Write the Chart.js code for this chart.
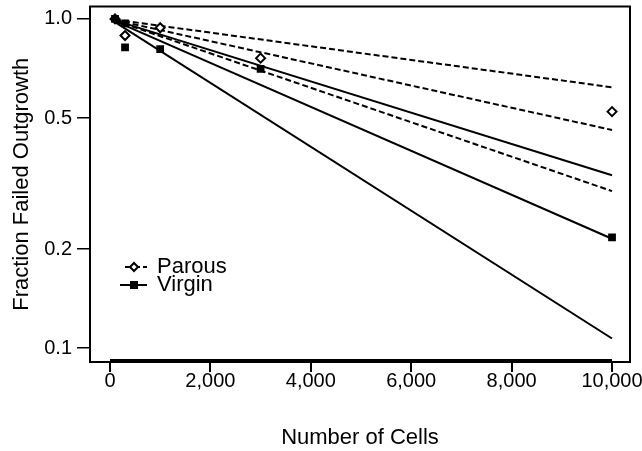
<!DOCTYPE html>
<html>
<head>
<meta charset="utf-8">
<script src="https://cdn.jsdelivr.net/npm/chart.js@4.4.0/dist/chart.umd.min.js"></script>
<style>
  html, body { margin: 0; padding: 0; background: #fff; }
  #wrap { width: 642px; height: 451px; }
</style>
</head>
<body>
<div id="wrap"><canvas id="chart" width="642" height="451"></canvas></div>
<script>
// observed fraction of failed outgrowths per number of cells injected
const parousCells = [100, 300, 1000, 3000, 10000];
const parousFailed = [1.0, 0.89, 0.94, 0.76, 0.523];
const virginCells = [100, 300, 300, 1000, 3000, 10000];
const virginFailed = [1.0, 0.97, 0.82, 0.81, 0.705, 0.217];

// fitted curves (estimate and bounds) at first and last dose
const fitCells = [100, 10000];
const parousFit = [0.992, 0.46];
const parousUpper = [0.995, 0.62];
const parousLower = [0.988, 0.30];
const virginFit = [0.985, 0.215];
const virginUpper = [0.99, 0.335];
const virginLower = [0.978, 0.107];

const yTicks = [0.1, 0.2, 0.5, 1.0];
const xTicks = [0, 2000, 4000, 6000, 8000, 10000];

const FONT = '"Liberation Sans", Arial, sans-serif';

function pairs(xs, ys) {
  return xs.map((x, i) => ({ x: x, y: ys[i] }));
}

function fitLine(values, dashed) {
  return {
    data: pairs(fitCells, values),
    borderColor: '#000',
    borderWidth: 2,
    borderDash: dashed ? [6, 3] : [],
    pointRadius: 0,
    fill: false,
    tension: 0
  };
}

// frame, bottom axis bar and the small legend
const framePlugin = {
  id: 'frame',
  afterDraw(chart) {
    const { ctx, chartArea: a } = chart;
    const x = chart.scales.x;
    ctx.save();
    ctx.strokeStyle = '#000';
    ctx.lineWidth = 2;
    ctx.strokeRect(a.left, a.top, a.right - a.left, a.bottom - a.top);

    ctx.lineWidth = 3;
    ctx.beginPath();
    ctx.moveTo(x.getPixelForValue(xTicks[0]), a.bottom - 1.5);
    ctx.lineTo(x.getPixelForValue(xTicks[xTicks.length - 1]), a.bottom - 1.5);
    ctx.stroke();

    // legend
    const lx0 = 120, lx1 = 147, mx = 134, tx = 157;
    const rows = [
      { label: 'Parous', y: 267, dashed: true },
      { label: 'Virgin', y: 285, dashed: false }
    ];
    rows.forEach(r => {
      ctx.lineWidth = 2;
      ctx.setLineDash(r.dashed ? [6, 3] : []);
      ctx.beginPath();
      ctx.moveTo(r.dashed ? lx0 + 5 : lx0, r.y);
      ctx.lineTo(lx1, r.y);
      ctx.stroke();
      ctx.setLineDash([]);
      if (r.dashed) {
        ctx.fillStyle = '#fff';
        ctx.beginPath();
        ctx.moveTo(mx - 4, r.y);
        ctx.lineTo(mx, r.y - 4);
        ctx.lineTo(mx + 4, r.y);
        ctx.lineTo(mx, r.y + 4);
        ctx.closePath();
        ctx.fill();
        ctx.stroke();
      } else {
        ctx.fillStyle = '#000';
        ctx.fillRect(mx - 4, r.y - 4, 8, 8);
      }
      ctx.fillStyle = '#000';
      ctx.font = '22px ' + FONT;
      ctx.textAlign = 'left';
      ctx.textBaseline = 'middle';
      ctx.fillText(r.label, tx, r.y);
    });
    ctx.restore();
  }
};

new Chart(document.getElementById('chart'), {
  type: 'line',
  data: {
    datasets: [
      {
        data: pairs(virginCells, virginFailed),
        showLine: false,
        pointStyle: 'rect',
        pointRadius: 5.5,
        pointBackgroundColor: '#000',
        pointBorderColor: '#000',
        pointBorderWidth: 0
      },
      {
        data: pairs(parousCells, parousFailed),
        showLine: false,
        pointStyle: 'rectRot',
        pointRadius: 4.5,
        pointBackgroundColor: '#fff',
        pointBorderColor: '#000',
        pointBorderWidth: 2
      },
      fitLine(virginFit, false),
      fitLine(virginUpper, false),
      fitLine(virginLower, false),
      fitLine(parousFit, true),
      fitLine(parousUpper, true),
      fitLine(parousLower, true)
    ]
  },
  options: {
    responsive: false,
    animation: false,
    layout: { padding: { top: 4, right: 12, left: 0, bottom: 0 } },
    plugins: {
      legend: { display: false },
      tooltip: { enabled: false }
    },
    scales: {
      x: {
        type: 'linear',
        min: -398,
        max: 10358,
        afterBuildTicks: s => { s.ticks = xTicks.map(v => ({ value: v })); },
        afterFit: s => { s.height = 89; s.paddingLeft = 0; s.paddingRight = 0; },
        border: { display: false },
        grid: {
          drawOnChartArea: false,
          drawTicks: true,
          tickLength: 10,
          color: '#000',
          lineWidth: 2
        },
        ticks: {
          autoSkip: false,
          maxRotation: 0,
          padding: -3,
          color: '#000',
          font: { family: FONT, size: 20 },
          callback: v => v.toLocaleString('en-US')
        },
        title: {
          display: true,
          text: 'Number of Cells',
          color: '#000',
          font: { family: FONT, size: 22 },
          padding: { top: 0, bottom: 0 }
        }
      },
      y: {
        type: 'logarithmic',
        min: 0.0908,
        max: 1.0907,
        afterBuildTicks: s => { s.ticks = yTicks.map(v => ({ value: v })); },
        afterFit: s => { s.width = 90; s.paddingTop = 0; s.paddingBottom = 0; },
        border: { display: false },
        grid: {
          drawOnChartArea: false,
          drawTicks: true,
          tickLength: 13,
          color: '#000',
          lineWidth: 1.5
        },
        ticks: {
          padding: 5,
          color: '#000',
          font: { family: FONT, size: 20 },
          callback: v => Number(v).toFixed(1)
        },
        title: {
          display: true,
          text: 'Fraction Failed Outgrowth',
          color: '#000',
          font: { family: FONT, size: 22 },
          padding: { top: 9, bottom: 0 }
        }
      }
    }
  },
  plugins: [framePlugin]
});
</script>
</body>
</html>
